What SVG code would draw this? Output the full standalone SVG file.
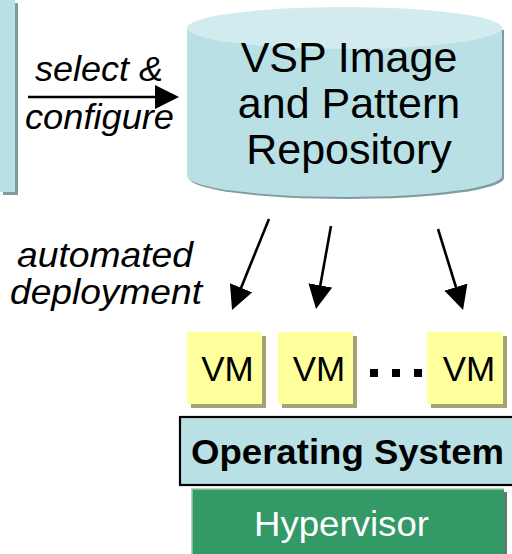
<svg xmlns="http://www.w3.org/2000/svg" width="512" height="554" viewBox="0 0 512 554">
  <style>
    .label { font-family: "Liberation Sans", Arial, sans-serif; fill: #000; }
    .ital { font-style: italic; font-size: 35px; }
    .vm { fill: #ffff9c; }
    .vmshadow { fill: #a3a378; }
    .vmtext { font-size: 35px; text-anchor: middle; }
    .conn { stroke: #000; stroke-width: 2.6; fill: none; marker-end: url(#head); }
  </style>
  <defs>
    <marker id="head" markerUnits="userSpaceOnUse" markerWidth="24" markerHeight="24" refX="14" refY="12" orient="auto">
      <path d="M0,0 L24,12 L0,24 z" fill="#000"/>
    </marker>
  </defs>
  <rect width="512" height="554" fill="#fff"/>

  <!-- left panel (partially visible) -->
  <g id="source-panel">
    <rect x="3" y="3" width="15" height="192" fill="#7f9c9f"/>
    <rect x="-5" y="-5" width="20" height="197" fill="#b9e0e4"/>
  </g>

  <!-- repository cylinder -->
  <g id="repository">
    <path d="M189,30 L189,178 A157.5,21 0 0 0 504,178 L504,30 Z" fill="#7f9c9f"/>
    <path d="M187,28 L187,176 A157.5,21 0 0 0 502,176 L502,28 Z" fill="#b9e0e4"/>
    <ellipse cx="344.5" cy="28" rx="157.5" ry="21" fill="#d2ebee"/>
    <text class="label" x="349" y="72" font-size="43" text-anchor="middle">VSP Image</text>
    <text class="label" x="349" y="118" font-size="43" text-anchor="middle">and Pattern</text>
    <text class="label" x="349" y="164" font-size="43" text-anchor="middle">Repository</text>
  </g>

  <!-- edge labels -->
  <g id="labels">
    <text class="label ital" x="35" y="81" textLength="128" lengthAdjust="spacingAndGlyphs">select &amp;</text>
    <text class="label ital" x="25" y="129" textLength="149" lengthAdjust="spacingAndGlyphs">configure</text>
    <text class="label ital" x="17" y="267" textLength="176" lengthAdjust="spacingAndGlyphs">automated</text>
    <text class="label ital" x="10" y="304" textLength="192" lengthAdjust="spacingAndGlyphs">deployment</text>
  </g>

  <!-- connectors -->
  <g id="connectors">
    <line class="conn" x1="28" y1="97" x2="169" y2="97"/>
    <line class="conn" x1="269" y1="219" x2="235.8" y2="300.7"/>
    <line class="conn" x1="331" y1="226" x2="317.8" y2="299.2"/>
    <line class="conn" x1="438" y1="229" x2="460.1" y2="300.5"/>
  </g>

  <!-- virtual machines -->
  <g id="vm1">
    <rect class="vmshadow" x="191" y="336" width="75" height="72"/>
    <rect class="vm" x="187" y="332" width="75" height="72"/>
    <text class="label vmtext" x="227.5" y="381">VM</text>
  </g>
  <g id="vm2">
    <rect class="vmshadow" x="282" y="336" width="75" height="72"/>
    <rect class="vm" x="278" y="332" width="75" height="72"/>
    <text class="label vmtext" x="319" y="381">VM</text>
  </g>
  <g id="ellipsis">
    <rect x="370" y="369" width="8" height="8" fill="#000"/>
    <rect x="392" y="369" width="8" height="8" fill="#000"/>
    <rect x="414" y="369" width="8" height="8" fill="#000"/>
  </g>
  <g id="vm3">
    <rect class="vmshadow" x="431" y="336" width="76" height="72"/>
    <rect class="vm" x="427" y="332" width="76" height="72"/>
    <text class="label vmtext" x="469" y="381">VM</text>
  </g>

  <!-- operating system layer -->
  <g id="operating-system">
    <rect x="180" y="417" width="340" height="68" fill="#b9e0e4" stroke="#000" stroke-width="2.2"/>
    <text class="label" x="191" y="464" font-size="35" font-weight="bold" textLength="313" lengthAdjust="spacingAndGlyphs">Operating System</text>
  </g>

  <!-- hypervisor layer -->
  <g id="hypervisor">
    <rect x="195" y="492" width="312" height="70" fill="#5f7d6c"/>
    <rect x="192" y="489" width="312" height="70" fill="#339966"/>
    <path d="M192,559 L192,489 L504,489" fill="none" stroke="#9cc7ae" stroke-width="1.5"/>
    <text x="254" y="536" font-family="Liberation Sans, Arial, sans-serif" font-size="35" fill="#fff" textLength="175" lengthAdjust="spacingAndGlyphs">Hypervisor</text>
  </g>
</svg>
